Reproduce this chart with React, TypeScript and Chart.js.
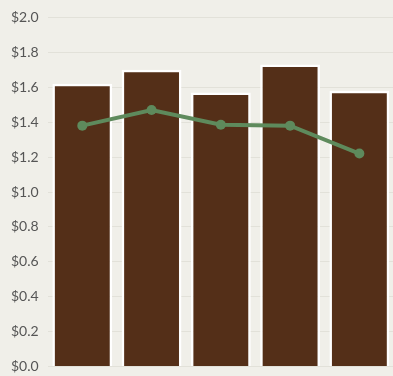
import React, { useEffect, useRef } from "react";
import { Chart, registerables } from "chart.js";

Chart.register(...registerables);

const categories = ["A", "B", "C", "D", "E"];
const barValues = [1.62, 1.7, 1.57, 1.73, 1.58];
const lineValues = [1.38, 1.47, 1.385, 1.38, 1.22];

export default function App() {
  const ref = useRef<HTMLCanvasElement>(null);
  useEffect(() => {
    document.body.style.margin = "0";
    const chart = new Chart(ref.current!, {
      type: "bar",
      data: {
        labels: categories,
        datasets: [
          {
            type: "line",
            data: lineValues,
            borderColor: "#5e8a5c",
            backgroundColor: "#5e8a5c",
            borderWidth: 4,
            pointRadius: 5,
            pointBorderWidth: 0,
            tension: 0,
            order: 0,
          },
          {
            type: "bar",
            data: barValues,
            backgroundColor: "#542f18",
            borderColor: "#ffffff",
            borderWidth: 2.5,
            categoryPercentage: 0.9,
            barPercentage: 0.96,
            order: 1,
          },
        ],
      },
      options: {
        animation: false,
        responsive: false,
        layout: { padding: { top: 10, bottom: 0, right: 0, left: 2 } },
        plugins: { legend: { display: false }, tooltip: { enabled: false } },
        scales: {
          x: {
            display: false,
          },
          y: {
            min: 0,
            max: 2,
            border: { display: false },
            grid: { color: "#e2e1d9", lineWidth: 1, drawTicks: false },
            ticks: {
              stepSize: 0.2,
              padding: 9,
              color: "#555555",
              font: { family: "Lato", size: 14 },
              callback: (v: any) => "$" + Number(v).toFixed(1),
            },
          },
        },
      },
    });
    return () => chart.destroy();
  }, []);
  return (
    <div style={{ background: "#f0efe9", width: 393, height: 376, overflow: "hidden" }}>
      <canvas ref={ref} width={399} height={384} style={{ display: "block" }} />
    </div>
  );
}
